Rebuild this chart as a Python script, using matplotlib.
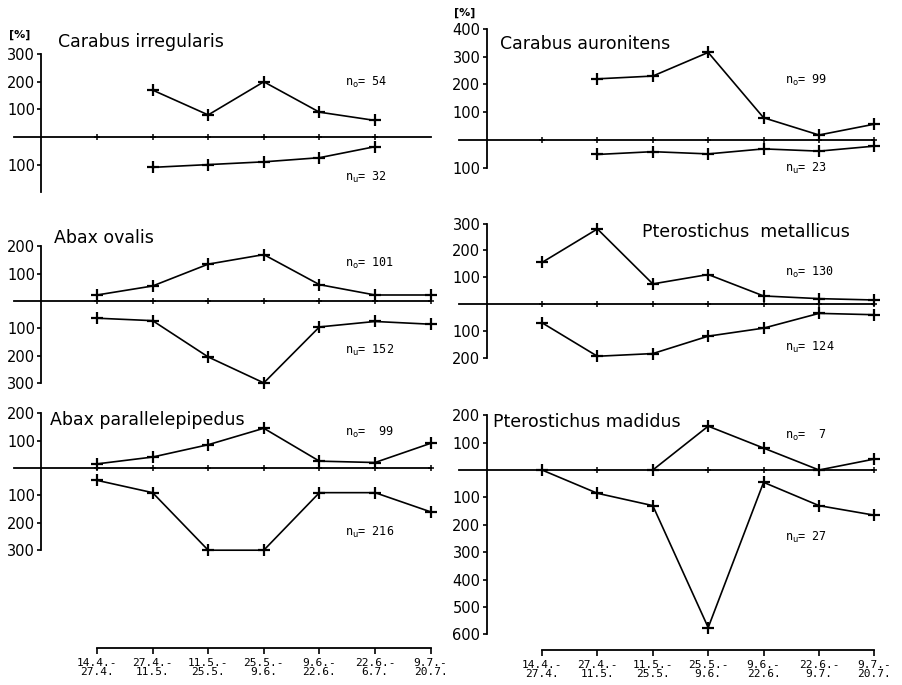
import numpy as np
import matplotlib.pyplot as plt

# --- DATA (percent) ---
nan = np.nan
periods_left = ["14.4.-\n27.4.", "27.4.-\n11.5.", "11.5.-\n25.5.", "25.5.-\n9.6.",
                "9.6.-\n22.6.", "22.6.-\n6.7.", "9.7.-\n20.7."]
periods_right = ["14.4.-\n27.4.", "27.4.-\n11.5.", "11.5.-\n25.5.", "25.5.-\n9.6.",
                 "9.6.-\n22.6.", "22.6.-\n9.7.", "9.7.-\n20.7."]

species = ["Carabus irregularis", "Carabus auronitens", "Abax ovalis",
           "Pterostichus  metallicus", "Abax parallelepipedus", "Pterostichus madidus"]
n_upper = ["54", "99", "101", "130", " 99", " 7"]
n_lower = ["32", "23", "152", "124", "216", "27"]

ci_up = [nan, 170, 80, 200, 90, 60, nan]
ci_dn = [nan, 110, 100, 90, 75, 35, nan]
ca_up = [nan, 220, 230, 315, 80, 18, 57]
ca_dn = [nan, 52, 42, 50, 32, 40, 22]
ao_up = [22, 55, 135, 170, 60, 22, 22]
ao_dn = [63, 72, 205, 300, 95, 75, 85]
pme_up = [155, 280, 75, 110, 30, 20, 15]
pme_dn = [70, 195, 185, 120, 90, 35, 40]
ap_up = [15, 40, 85, 145, 25, 20, 90]
ap_dn = [45, 90, 300, 300, 90, 90, 160]
pma_up = [nan, nan, 0, 160, 80, 0, 40]
pma_dn = [0, 85, 130, 575, 45, 130, 165]

upper = [ci_up, ca_up, ao_up, pme_up, ap_up, pma_up]
lower = [ci_dn, ca_dn, ao_dn, pme_dn, ap_dn, pma_dn]

# y axis extent and labelled ticks per panel
y_extent = [(-200, 300), (-100, 400), (-300, 200), (-200, 300), (-300, 200), (-600, 200)]
y_ticks = [[300, 200, 100, -100],
           [400, 300, 200, 100, -100],
           [200, 100, -100, -200, -300],
           [300, 200, 100, -100, -200],
           [200, 100, -100, -200, -300],
           [200, 100, -100, -200, -300, -400, -500, -600]]
zero_pts = [6, 7, 7, 7, 7, 7]  # number of + marks on the zero line

# --- LAYOUT (pixels) ---
W, H = 903, 685
col_x0 = [97, 542]      # pixel x of first period
col_dx = [55.6, 55.4]   # pixel spacing between periods
zero_px = [137, 140, 301, 304, 468, 470]
scale = [27.6, 27.8, 27.3, 26.8, 27.4, 27.4]   # px per 100 %
title_pos = [(58, 42), (500, 44), (54, 238), (642, 232), (50, 420), (493, 422)]
n_pos = [((345, 82), (345, 177)), ((785, 80), (785, 168)),
         ((345, 263), (345, 350)), ((785, 272), (785, 347)),
         ((345, 432), (345, 532)), ((785, 435), (785, 537))]
XLIM = (-1.6, 6.3)

fig = plt.figure(figsize=(W / 100, H / 100), dpi=100)


def rect(left, top, width, height):
    return [left / W, 1 - (top + height) / H, width / W, height / H]


idx = np.arange(7)
for i in range(6):
    col = i % 2
    lo, hi = y_extent[i]
    ylo, yhi = lo - 40, hi + 40
    s = scale[i] / 100.0
    left = col_x0[col] + XLIM[0] * col_dx[col]
    width = (XLIM[1] - XLIM[0]) * col_dx[col]
    top = zero_px[i] - yhi * s
    ax = fig.add_axes(rect(left, top, width, (yhi - ylo) * s))
    ax.set_xlim(*XLIM)
    ax.set_ylim(ylo, yhi)
    ax.patch.set_alpha(0)
    for sp in ["top", "right", "bottom"]:
        ax.spines[sp].set_visible(False)
    ax.spines["left"].set_position(("data", -1))
    ax.spines["left"].set_bounds(lo, hi)
    ax.spines["left"].set_linewidth(1.3)
    ax.set_xticks([])
    ax.set_yticks(y_ticks[i])
    ax.set_yticklabels([str(abs(t)) for t in y_ticks[i]])
    ax.tick_params(axis="y", direction="out", length=3, width=1.2, pad=1.5, labelsize=10.5)

    # zero line
    ax.plot([-1.5, 6], [0, 0], color="black", lw=1.3)
    ax.plot(idx[:zero_pts[i]], np.zeros(zero_pts[i]), ls="none", marker="+",
            ms=5, mew=1.1, color="black")

    up = np.array(upper[i], dtype=float)
    dn = -np.array(lower[i], dtype=float)
    for vals in (up, dn):
        ax.plot(idx, vals, color="black", lw=1.2, marker="+", ms=8, mew=1.6)

    tx, ty = title_pos[i]
    fig.text(tx / W, 1 - ty / H, species[i], fontsize=12.5, ha="left", va="center")
    (ox, oy), (ux, uy) = n_pos[i]
    fig.text(ox / W, 1 - oy / H, r"n$_{\mathrm{o}}$= " + n_upper[i], fontsize=8.5,
             family="DejaVu Sans Mono", ha="left", va="center")
    fig.text(ux / W, 1 - uy / H, r"n$_{\mathrm{u}}$= " + n_lower[i], fontsize=8.5,
             family="DejaVu Sans Mono", ha="left", va="center")

fig.text(20 / W, 1 - 35 / H, "[%]", fontsize=8, fontweight="bold", ha="center", va="center")
fig.text(465 / W, 1 - 13 / H, "[%]", fontsize=8, fontweight="bold", ha="center", va="center")

# date axes at the bottom
for col, (line_y, labels) in enumerate([(648, periods_left), (650, periods_right)]):
    left = col_x0[col] + XLIM[0] * col_dx[col]
    width = (XLIM[1] - XLIM[0]) * col_dx[col]
    ax = fig.add_axes(rect(left, line_y - 10, width, 10))
    ax.set_xlim(*XLIM)
    ax.patch.set_alpha(0)
    for sp in ["top", "right", "left"]:
        ax.spines[sp].set_visible(False)
    ax.spines["bottom"].set_bounds(0, 6)
    ax.spines["bottom"].set_linewidth(1.3)
    ax.set_yticks([])
    ax.set_xticks(idx)
    ax.set_xticklabels(labels, family="DejaVu Sans Mono", fontsize=8, linespacing=0.9)
    ax.tick_params(axis="x", direction="out", length=4, width=1.2, pad=3)

fig.savefig("out.png", dpi=100)
